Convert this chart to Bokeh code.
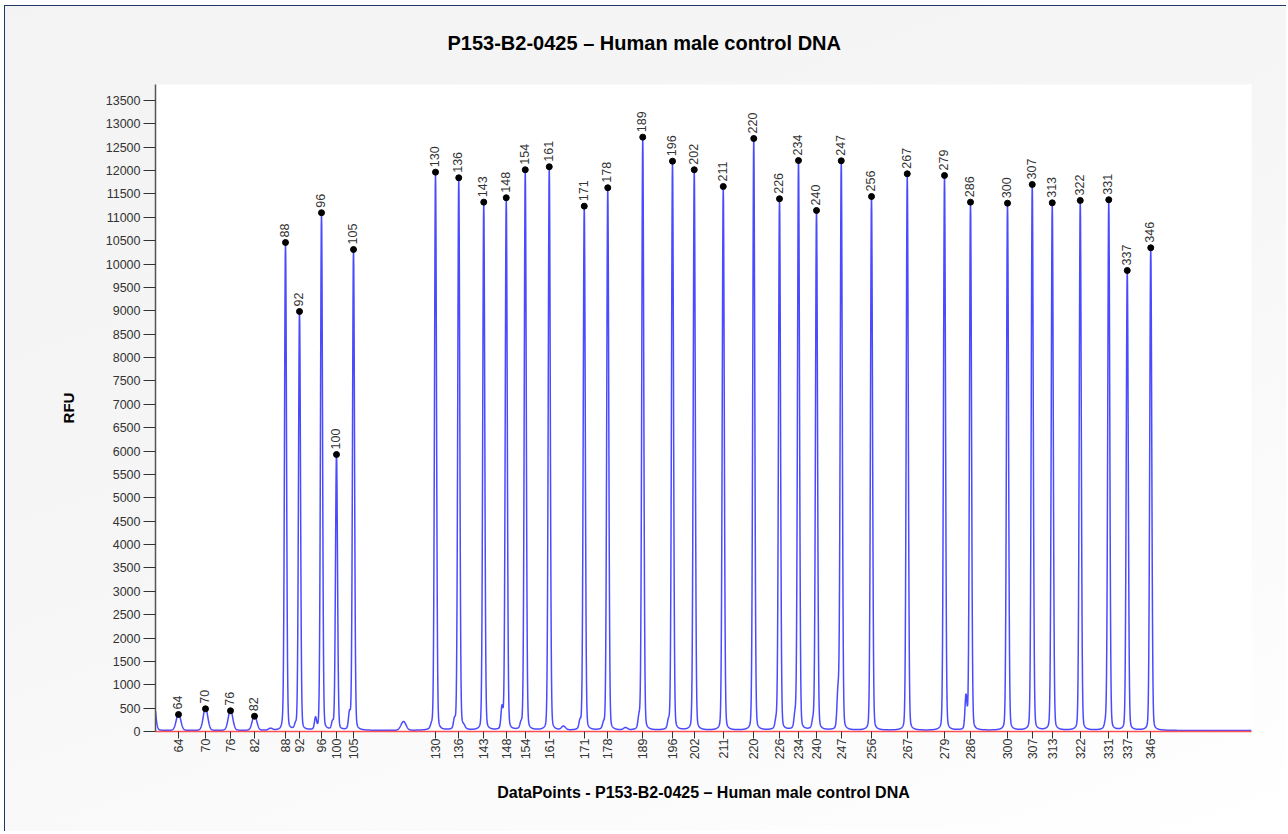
import numpy as np
from math import pi
from bokeh.plotting import figure
from bokeh.models import Range1d, FixedTicker, ColumnDataSource, LabelSet, Title
from bokeh.embed import file_html
from bokeh.resources import INLINE
from bokeh.core.properties import value

# ---- data ----
sizes = [64, 70, 76, 82, 88, 92, 96, 100, 105, 130, 136, 143, 148, 154, 161, 171, 178,
         189, 196, 202, 211, 220, 226, 234, 240, 247, 256, 267, 279, 286, 300, 307, 313,
         322, 331, 337, 346]
peak_dp = [1592, 1700, 1800, 1896, 2020, 2076, 2164, 2224, 2292, 2620, 2713, 2813, 2903,
           2979, 3075, 3215, 3309, 3449, 3568, 3655, 3771, 3893, 3996, 4072, 4144, 4243,
           4364, 4507, 4656, 4760, 4908, 5007, 5087, 5199, 5313, 5387, 5481]
peak_rfu = [364, 486, 443, 327, 10462, 8986, 11098, 5926, 10312, 11967, 11846, 11325,
            11419, 12018, 12082, 11239, 11633, 12716, 12202, 12018, 11660, 12687, 11397,
            12216, 11147, 12210, 11446, 11932, 11896, 11325, 11303, 11703, 11311, 11361,
            11376, 9863, 10349]
peak_sigma = [9, 9, 9, 9] + [4] * 33

# minor peaks / shoulders (data point, RFU, width)
minor_dp = [1490, 1960, 2008, 2060, 2140, 2208, 2276, 2492, 2604, 2696, 2732, 2886, 2962,
            3132, 3198, 3292, 3380, 3434, 3552, 3982, 4058, 4130, 4230, 4742, 5300]
minor_rfu = [900, 40, 60, 90, 240, 150, 340, 190, 80, 190, 70, 450, 110, 80, 160, 110,
             50, 240, 160, 160, 280, 160, 780, 700, 110]
minor_sigma = [8, 8, 4, 4, 4, 4, 4, 10, 4, 4, 6, 4, 4, 8, 4, 4, 8, 4, 4, 4, 4, 4, 4, 4, 4]

x_start, x_end = 1500, 5884
y_end = 13842
baseline = 20

# ---- electropherogram trace built from the peak list ----
dp = np.arange(x_start, x_end + 1, 1.0)
rfu = np.full_like(dp, baseline)
for c, h, s in zip(peak_dp + minor_dp, peak_rfu + minor_rfu, peak_sigma + minor_sigma):
    d = dp - c
    g = 1.25 * s
    rfu += h * (0.9 * np.exp(-0.5 * (d / s) ** 2) + 0.1 / (1 + (d / g) ** 2))

trace = ColumnDataSource(dict(x=dp, y=rfu))
peaks = ColumnDataSource(dict(x=peak_dp, y=peak_rfu, lab=[str(s) for s in sizes]))

FONT = "Liberation Sans"

p = figure(width=1282, height=826, output_backend="svg", toolbar_location=None,
           x_range=Range1d(x_start, x_end), y_range=Range1d(0, y_end),
           min_border_left=150, min_border_right=36, min_border_top=78,
           min_border_bottom=101, title=None)

p.border_fill_color = "#f6f6f6"
p.border_fill_alpha = 0.0
p.background_fill_color = "white"
p.outline_line_color = None
p.styles = {"background": "linear-gradient(160deg, #f3f3f3 0%, #f6f6f6 45%, #ffffff 100%)",
            "border-top": "1px solid #1f3864", "border-left": "1px solid #1f3864",
            "margin-left": "4px", "margin-top": "5px"}

# spacer panel next to the frame, then the real title above it
spacer = Title(text=".", text_font_size="2px", standoff=16, text_color="#f6f6f6",
               text_alpha=0.01)
p.add_layout(spacer, "above")
t = Title(text="P153-B2-0425 \u2013 Human male control DNA", align="left", offset=292,
          text_font=FONT, text_font_size="20px", text_font_style="bold",
          text_color="#000000", standoff=24)
p.add_layout(t, "above")

p.xgrid.visible = False
p.ygrid.visible = False

p.line("x", "y", source=trace, line_color="#2a2aff", line_width=1.5, line_alpha=0.85)
p.scatter("x", "y", source=peaks, size=6, color="black")
p.add_layout(LabelSet(x="x", y="y", text="lab", source=peaks, angle=pi / 2,
                      text_align="left", text_baseline="middle", x_offset=-1, y_offset=5,
                      text_font=value(FONT), text_font_size="12.5px", text_color="#333333"))

xa = p.xaxis[0]
xa.ticker = FixedTicker(ticks=peak_dp)
xa.major_label_overrides = {d: str(s) for d, s in zip(peak_dp, sizes)}
xa.major_label_orientation = pi / 2
xa.axis_line_color = "#ff5050"
xa.axis_line_width = 1.5
xa.major_tick_line_color = "#333333"
xa.major_tick_out = 7
xa.major_tick_in = 0
xa.minor_tick_line_color = None
xa.major_label_text_font = FONT
xa.major_label_text_font_size = "12.5px"
xa.major_label_text_color = "#333333"
xa.major_label_standoff = 0
xa.axis_label = "DataPoints - P153-B2-0425 \u2013 Human male control DNA"
xa.axis_label_text_font = FONT
xa.axis_label_text_font_size = "16px"
xa.axis_label_text_font_style = "bold"
xa.axis_label_text_color = "#000000"
xa.axis_label_standoff = 22

ya = p.yaxis[0]
ya.ticker = FixedTicker(ticks=list(range(0, 13501, 500)))
ya.axis_line_color = "#555555"
ya.axis_line_width = 1.5
ya.major_tick_line_color = "#333333"
ya.major_tick_out = 12
ya.major_tick_in = 0
ya.minor_tick_line_color = None
ya.major_label_text_font = FONT
ya.major_label_text_font_size = "12.5px"
ya.major_label_text_color = "#333333"
ya.major_label_standoff = 3
ya.axis_label = "RFU"
ya.axis_label_text_font = FONT
ya.axis_label_text_font_size = "15px"
ya.axis_label_text_font_style = "bold"
ya.axis_label_text_color = "#000000"
ya.axis_label_standoff = 26

open("out.html", "w").write(file_html(p, INLINE))
